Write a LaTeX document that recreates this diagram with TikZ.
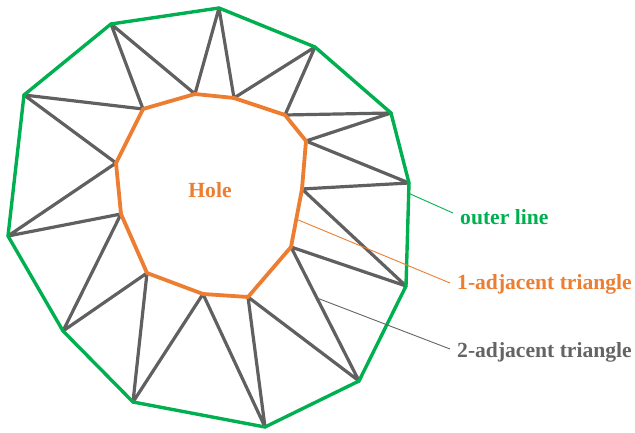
\documentclass[tikz,border=0pt]{standalone}
\usepackage{fontspec}
\setmainfont{Liberation Serif}
\usetikzlibrary{calc}
\definecolor{lgreen}{RGB}{0,176,80}
\definecolor{lorange}{RGB}{237,125,49}
\definecolor{lgray}{RGB}{96,96,96}
\definecolor{tgray}{RGB}{100,100,100}
\tikzset{
  tri/.style={draw=lgray,line width=3.2pt,line join=round,line cap=round},
  outer/.style={draw=lgreen,line width=3.4pt,line join=round},
  inner/.style={draw=lorange,line width=3.8pt,line join=round},
  lbl/.style={font=\fontsize{21.6}{24}\selectfont\bfseries,inner sep=0pt},
  leader/.style={line width=0.9pt}
}
\begin{document}
\begin{tikzpicture}[x=1pt,y=-1pt]
\useasboundingbox (0,0) rectangle (635,433);
% outer vertices
\coordinate (o1) at (111,24);
\coordinate (o2) at (219,8);
\coordinate (o3) at (315,47);
\coordinate (o4) at (391,113);
\coordinate (o5) at (409,183);
\coordinate (o6) at (406,286);
\coordinate (o7) at (359,381);
\coordinate (o8) at (265,427);
\coordinate (o9) at (133,402);
\coordinate (o10) at (63,331);
\coordinate (o11) at (8,236);
\coordinate (o12) at (24,95);
% inner vertices
\coordinate (i1) at (143,109);
\coordinate (i2) at (195,94);
\coordinate (i3) at (234,98);
\coordinate (i4) at (285,115);
\coordinate (i5) at (306,141);
\coordinate (i6) at (302,189);
\coordinate (i7) at (291,247);
\coordinate (i8) at (248,297);
\coordinate (i9) at (203,294);
\coordinate (i10) at (147,273);
\coordinate (i11) at (121,214);
\coordinate (i12) at (116,163);
% triangle edges
\draw[tri] (o1)--(i1) (o1)--(i2) (o2)--(i2) (o2)--(i3) (o3)--(i3) (o3)--(i4)
  (o4)--(i4) (o4)--(i5) (o5)--(i5) (o5)--(i6) (o6)--(i6) (o6)--(i7)
  (o7)--(i7) (o7)--(i8) (o8)--(i8) (o8)--(i9) (o9)--(i9) (o9)--(i10)
  (o10)--(i10) (o10)--(i11) (o11)--(i11) (o11)--(i12) (o12)--(i12) (o12)--(i1);
% outer line
\draw[outer] (o1)--(o2)--(o3)--(o4)--(o5)--(o6)--(o7)--(o8)--(o9)--(o10)--(o11)--(o12)--cycle;
% hole boundary
\draw[inner] (i1)--(i2)--(i3)--(i4)--(i5)--(i6)--(i7)--(i8)--(i9)--(i10)--(i11)--(i12)--cycle;
% labels
\node[lbl,text=lorange,anchor=base] (hole) at (210,197) {Hole};
\node[lbl,text=lgreen,anchor=base west] (lout) at (460,224) {outer line};
\node[lbl,text=lorange,anchor=base west] (l1) at (457,289) {1-adjacent triangle};
\node[lbl,text=tgray,anchor=base west] (l2) at (457,357) {2-adjacent triangle};
% leader lines
\coordinate (p0) at ($(o5)!0.1!(o6)$);
\coordinate (e0) at (453,213);
\coordinate (p1) at ($(i6)!0.52!(i7)$);
\coordinate (e1) at (450,283);
\coordinate (p2) at ($(i7)!0.38!(o7)$);
\coordinate (e2) at (450,349);
\draw[leader,lgreen] (p0)--(e0);
\draw[leader,lorange] (p1)--(e1);
\draw[leader,tgray] (p2)--(e2);
\end{tikzpicture}
\end{document}
